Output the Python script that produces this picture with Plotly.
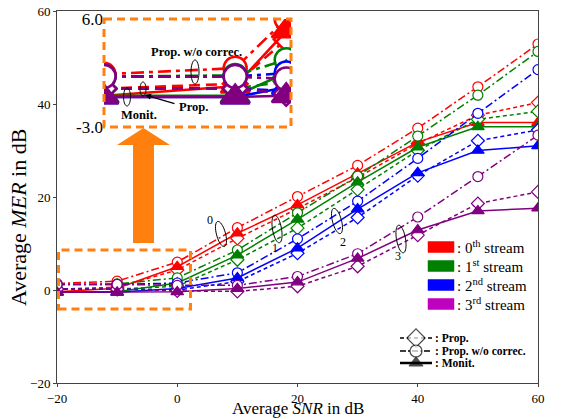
import numpy as np
import plotly.graph_objects as go

# ---------------- data ----------------
snr = [-20, -10, 0, 10, 20, 30, 40, 50, 60]

# stream 0 (red)
mer0_prop  = [0.2, 0.6, 4.3, 11.1, 17.5, 24.2, 31.5, 37.6, 40.3]
mer0_woc   = [1.4, 1.9, 6.0, 13.4, 20.1, 26.8, 34.8, 43.7, 52.9]
mer0_monit = [-0.4, 0.4, 5.0, 12.2, 18.3, 25.1, 31.8, 36.0, 36.0]
# stream 1 (green)
mer1_prop  = [0.2, 0.2, 0.8, 6.5, 13.3, 21.6, 30.0, 36.7, 38.4]
mer1_woc   = [1.2, 1.3, 2.6, 8.6, 16.6, 24.5, 33.1, 41.9, 51.3]
mer1_monit = [-0.4, -0.4, 1.5, 7.5, 15.2, 23.2, 30.7, 35.1, 35.1]
# stream 2 (blue)
mer2_prop  = [0.2, 0.2, 0.0, 1.8, 7.9, 15.6, 24.6, 32.1, 34.4]
mer2_woc   = [1.2, 1.2, 1.5, 3.7, 11.0, 19.1, 28.3, 38.0, 47.4]
mer2_monit = [-0.5, -0.5, 0.3, 2.6, 9.0, 17.4, 25.2, 30.0, 31.0]
# stream 3 (purple)
mer3_prop  = [0.2, 0.2, -0.2, -0.3, 0.8, 5.1, 11.8, 18.6, 21.1]
mer3_woc   = [1.2, 1.2, 1.0, 1.0, 2.9, 7.8, 15.7, 24.4, 33.3]
mer3_monit = [-0.5, -0.5, -0.4, 0.3, 1.7, 6.8, 12.9, 17.0, 17.6]

stream_names = ["0<sup>th</sup>", "1<sup>st</sup>", "2<sup>nd</sup>", "3<sup>rd</sup>"]
stream_colors = ["#ff0000", "#008000", "#0000ff", "#800080"]
swatch_colors = ["#ff0000", "#008000", "#0000ff", "#bf00bf"]
method_labels = ["Prop.", "Prop. w/o correc.", "Monit."]

x_ticks = [-20, 0, 20, 40, 60]
y_ticks = [-20, 0, 20, 40, 60]
inset_y_ticks = [-3, 6]
inset_y_text = ["-3.0", "6.0"]

series = [
    [mer0_prop, mer0_woc, mer0_monit],
    [mer1_prop, mer1_woc, mer1_monit],
    [mer2_prop, mer2_woc, mer2_monit],
    [mer3_prop, mer3_woc, mer3_monit],
]

# ---------------- styles ----------------
FONT = '"Liberation Serif", "Times New Roman", Times, serif'
ORANGE = "#ff800e"
W, H = 570, 419
L, R, T, B = 57, 538, 11, 383          # plot area in pixels
INSET_SHIFT = 23                        # inset x-scale offset (log scale of SNR+shift)

main_dash = ["4px,3px", "8px,3px,2px,3px", "solid"]
inset_dash = ["11px,6px", "13px,5px,4px,5px", "solid"]
symbols = ["diamond", "circle", "triangle-up"]
main_size = [10, 10, 11]
inset_size = [19, 23, 25]

fig = go.Figure()

# main traces
for s, (vals, col) in enumerate(zip(series, stream_colors)):
    for m in range(3):
        filled = symbols[m] == "triangle-up"
        fig.add_trace(go.Scatter(
            x=snr, y=vals[m], mode="lines+markers",
            line=dict(color=col, width=1.5, dash=main_dash[m]),
            marker=dict(symbol=symbols[m], size=main_size[m],
                        color=col if filled else "white",
                        line=dict(color=col, width=1.2)),
            showlegend=False, xaxis="x", yaxis="y"))

# inset traces
inset_x = [v + INSET_SHIFT for v in snr]
for s, (vals, col) in enumerate(zip(series, stream_colors)):
    for m in range(3):
        filled = symbols[m] == "triangle-up"
        fig.add_trace(go.Scatter(
            x=inset_x, y=vals[m], mode="lines+markers",
            line=dict(color=col, width=2.6, dash=inset_dash[m]),
            marker=dict(symbol=symbols[m], size=inset_size[m],
                        color=col if filled else "white",
                        line=dict(color=col, width=2.5)),
            showlegend=False, xaxis="x2", yaxis="y2"))

# legend glyphs (pixel overlay axis x3/y3)
glyph_rows = [338, 351, 363]
glyph_x = [400, 416, 432]
glyph_dash = ["4px,3px", "6px,2px,2px,2px", "solid"]
glyph_width = [1.5, 1.5, 2.5]
glyph_size = [14, 12, 12]
for m in range(3):
    filled = symbols[m] == "triangle-up"
    fig.add_trace(go.Scatter(
        x=glyph_x, y=[glyph_rows[m]] * 3, mode="lines+markers",
        line=dict(color="black", width=glyph_width[m], dash=glyph_dash[m]),
        marker=dict(symbol=symbols[m], size=[0, glyph_size[m], 0],
                    color="black" if filled else "white",
                    line=dict(color="black", width=1.2)),
        showlegend=False, xaxis="x3", yaxis="y3", cliponaxis=False))

# ---------------- shapes ----------------
shapes = []
shapes.append(dict(type="rect", xref="x", yref="y", x0=-19.75, x1=2.2, y0=-4.1, y1=8.6,
                   line=dict(color=ORANGE, width=3, dash="8px,5px"), layer="above"))
shapes.append(dict(type="rect", xref="x3", yref="y3", x0=104, x1=291, y0=19, y1=127,
                   line=dict(color=ORANGE, width=3, dash="8px,5px"), layer="above"))
arrow_pts = [(133, 243), (154, 243), (154, 145), (170, 145), (143.5, 128), (117, 145), (133, 145)]
shapes.append(dict(type="path", xref="x3", yref="y3",
                   path="M " + " L ".join(f"{a},{b}" for a, b in arrow_pts) + " Z",
                   fillcolor=ORANGE, line=dict(width=0), layer="above"))


def ellipse_path(cx, cy, rx, ry, ang):
    t = np.linspace(0, 2 * np.pi, 40)
    a = np.deg2rad(ang)
    ex, ey = rx * np.cos(t), ry * np.sin(t)
    px = cx + ex * np.cos(a) - ey * np.sin(a)
    py = cy + ex * np.sin(a) + ey * np.cos(a)
    return "M " + " L ".join(f"{u:.2f},{v:.2f}" for u, v in zip(px, py)) + " Z"


loops = [
    (221, 234, 4.5, 13, -15), (277, 229, 4.5, 14, -10),
    (337, 221, 4.5, 13, -15), (401, 239, 4.5, 14, -10),
    (195, 72, 4, 12, 0), (127, 97, 3.5, 9, 0), (143, 89, 3, 7, 0),
]
for cx, cy, rx, ry, ang in loops:
    shapes.append(dict(type="path", xref="x3", yref="y3", path=ellipse_path(cx, cy, rx, ry, ang),
                       line=dict(color="black", width=1), layer="above"))

swatch_rows = [247, 266, 285, 304]
for yy, c in zip(swatch_rows, swatch_colors):
    shapes.append(dict(type="rect", xref="x3", yref="y3", x0=428, x1=454, y0=yy - 5.5, y1=yy + 5.5,
                       fillcolor=c, line=dict(color=c, width=0.5), layer="above"))

# ---------------- annotations ----------------
ann = []
for yy, nm in zip(swatch_rows, stream_names):
    ann.append(dict(xref="x3", yref="y3", x=455, y=yy, text=f": {nm} stream", showarrow=False,
                    xanchor="left", yanchor="middle", font=dict(family=FONT, size=15, color="black")))
for yy, lab in zip(glyph_rows, method_labels):
    ann.append(dict(xref="x3", yref="y3", x=433, y=yy, text=f"<b>: {lab}</b>", showarrow=False,
                    xanchor="left", yanchor="middle", font=dict(family=FONT, size=11.5, color="black")))
for txt, xx, yy in [("0", 210, 220), ("1", 275, 248), ("2", 343, 242), ("3", 398, 256)]:
    ann.append(dict(xref="x3", yref="y3", x=xx, y=yy, text=txt, showarrow=False,
                    font=dict(family=FONT, size=12, color="black")))
ann.append(dict(xref="x3", yref="y3", x=196, y=52, text="<b>Prop. w/o correc.</b>", showarrow=False,
                font=dict(family=FONT, size=12.5, color="black")))
ann.append(dict(xref="x3", yref="y3", x=177, y=107, text="<b>Prop.</b>", showarrow=False,
                xanchor="left", font=dict(family=FONT, size=12.5, color="black")))
ann.append(dict(xref="x3", yref="y3", x=139, y=115, text="<b>Monit.</b>", showarrow=False,
                font=dict(family=FONT, size=12.5, color="black")))
ann.append(dict(xref="x3", yref="y3", x=145, y=95, axref="x3", ayref="y3", ax=176, ay=104,
                text="", showarrow=True, arrowhead=2, arrowsize=1, arrowwidth=1.2, arrowcolor="black"))
# axis titles
ann.append(dict(xref="paper", yref="paper", x=0.5, y=-(408 - B) / (B - T), text="Average <i>SNR</i> in dB",
                showarrow=False, font=dict(family=FONT, size=17, color="black"),
                xanchor="center", yanchor="middle"))
ann.append(dict(xref="paper", yref="paper", x=(19 - L) / (R - L), y=(B - 218) / (B - T),
                text="Average <i>MER</i> in dB", showarrow=False, textangle=-90,
                font=dict(family=FONT, size=22, color="black"), xanchor="center", yanchor="middle"))

axis_common = dict(showgrid=False, zeroline=False, showline=True, linecolor="#444", linewidth=1,
                   mirror=True, ticks="outside", ticklen=3, tickcolor="#444", automargin=False,
                   tickfont=dict(family=FONT, size=13, color="black"))

fig.update_layout(
    width=W, height=H,
    margin=dict(l=L, r=W - R, t=T, b=H - B, pad=0, autoexpand=False),
    paper_bgcolor="white", plot_bgcolor="white",
    showlegend=False,
    font=dict(family=FONT, color="black"),
    xaxis=dict(range=[-20, 60], tickvals=x_ticks, **axis_common),
    yaxis=dict(range=[-20, 60], tickvals=y_ticks, **axis_common),
    xaxis2=dict(type="log", range=[np.log10(-20 + INSET_SHIFT), 1.385],
                domain=[(104 - L) / (R - L), (291 - L) / (R - L)], anchor="y2", automargin=False,
                showgrid=False, zeroline=False, showline=False, showticklabels=False, ticks=""),
    yaxis2=dict(range=[-3, 6], domain=[(B - 127) / (B - T), (B - 19) / (B - T)], anchor="x2",
                showgrid=False, zeroline=False, showline=False, ticks="", automargin=False,
                tickvals=inset_y_ticks, ticktext=inset_y_text,
                tickfont=dict(family=FONT, size=17, color="black")),
    xaxis3=dict(range=[L, R], overlaying="x", visible=False, automargin=False),
    yaxis3=dict(range=[B, T], overlaying="y", visible=False, automargin=False),
    shapes=shapes, annotations=ann,
)

fig.write_html("out.html", config={"displayModeBar": False},
               post_script="document.body.style.margin='0';document.body.style.padding='0';"
                           "document.documentElement.style.overflow='hidden';")
